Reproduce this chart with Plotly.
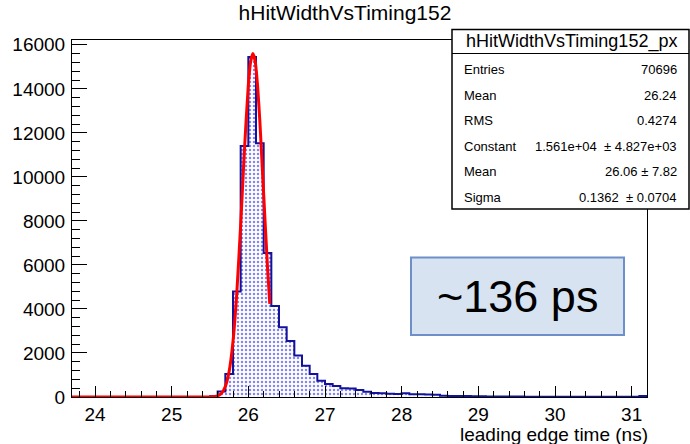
import plotly.graph_objects as go

# ---------------- data ----------------
bin_width = 0.1
bin_left_edges = [round(23.7 + 0.1 * i, 1) for i in range(75)]
counts = [
    0, 0, 0, 0, 0, 0, 0, 0, 0, 0,          # 23.7 - 24.6
    0, 0, 0, 0, 0, 0, 0, 0,                # 24.7 - 25.4
    30, 250, 1050, 4790, 11400,            # 25.5 - 25.9
    15450, 11530, 6545, 4140, 3170,        # 26.0 - 26.4
    2545, 1880, 1425, 1045, 740,           # 26.5 - 26.9
    590, 500, 400, 390, 320,               # 27.0 - 27.4
    240, 180, 175, 150, 140,               # 27.5 - 27.9
    175, 130, 120, 110, 100,               # 28.0 - 28.4
    60, 50, 45, 40, 35,                    # 28.5 - 28.9
    30, 28, 25, 22, 20,                    # 29.0 - 29.4
    18, 16, 15, 14, 12,                    # 29.5 - 29.9
    11, 10, 10, 9, 8,                      # 30.0 - 30.4
    8, 7, 7, 6, 6,                         # 30.5 - 30.9
    6, 45,                                 # 31.0 - 31.1
]

# red fit curve
fit_x = [23.7, 25.0, 25.4, 25.5, 25.6, 25.65, 25.7, 25.75, 25.8, 25.85, 25.9,
         25.95, 26.0, 26.03, 26.06, 26.09, 26.12, 26.15, 26.2, 26.25, 26.28]
fit_y = [0, 0, 0, 3, 52, 168, 475, 1170, 2524, 4755, 7830,
         11266, 14166, 15236, 15610, 15236, 14166, 12549, 9203, 5901, 4234]

y_tick_values = [0, 2000, 4000, 6000, 8000, 10000, 12000, 14000, 16000]
x_tick_values = [24, 25, 26, 27, 28, 29, 30, 31]

title_text = "hHitWidthVsTiming152"
stats_title = "hHitWidthVsTiming152_px"
stats_labels = ["Entries", "Mean", "RMS", "Constant", "Mean", "Sigma"]
stats_values = ["70696", "26.24", "0.4274",
                "1.561e+04\u00a0\u00a0\u00b1 4.827e+03",
                "26.06 \u00b1 7.82",
                "0.1362 \u00a0\u00b1 0.0704"]
x_title = "leading edge time (ns)"
note_text = "~136 ps"

# ---------------- figure ----------------
FONT = "Liberation Sans, Arial, sans-serif"
centers = [e + bin_width / 2 for e in bin_left_edges]

fig = go.Figure()
fig.add_trace(go.Bar(
    x=centers, y=counts, width=bin_width,
    marker=dict(color="white", line=dict(width=0),
                pattern=dict(shape=".", fgcolor="#0a0af0", bgcolor="white",
                             size=4, solidity=0.3)),
    hoverinfo="skip", showlegend=False,
))
step_x = bin_left_edges + [bin_left_edges[-1] + bin_width]
step_y = counts + [counts[-1]]
fig.add_trace(go.Scatter(
    x=step_x, y=step_y, mode="lines", line=dict(shape="hv", color="#12129a", width=2),
    showlegend=False, hoverinfo="skip",
))
fig.add_trace(go.Scatter(
    x=fit_x, y=fit_y, mode="lines", line=dict(color="#ff0000", width=3, shape="spline", smoothing=0.6),
    showlegend=False, hoverinfo="skip",
))

L, R, T, B = 72, 43, 40, 47
W, H = 690, 444
pw, ph = W - L - R, H - T - B


def px(x):
    return (x - L) / pw


def py(y):
    return (H - B - y) / ph


shapes = [
    # stats box
    dict(type="rect", xref="paper", yref="paper", x0=px(452), x1=px(689), y0=py(209), y1=py(29.5),
         fillcolor="white", line=dict(color="black", width=1.5), layer="above"),
    dict(type="line", xref="paper", yref="paper", x0=px(452), x1=px(689), y0=py(53.5), y1=py(53.5),
         line=dict(color="black", width=1), layer="above"),
    # note box
    dict(type="rect", xref="paper", yref="paper", x0=px(411), x1=px(624), y0=py(335), y1=py(257.5),
         fillcolor="#d7e3f0", line=dict(color="#6e8fc8", width=2), layer="above"),
]

annotations = [
    dict(text=stats_title, xref="paper", yref="paper", x=px(571), y=py(41.5),
         xanchor="center", yanchor="middle", showarrow=False,
         font=dict(family=FONT, size=18, color="black")),
    dict(text=note_text, xref="paper", yref="paper", x=px(517.5), y=py(296),
         xanchor="center", yanchor="middle", showarrow=False,
         font=dict(family=FONT, size=45, color="black")),
    dict(text=x_title, xref="paper", yref="paper", x=px(650), y=py(434),
         xanchor="right", yanchor="middle", showarrow=False,
         font=dict(family=FONT, size=19, color="black")),
]
row_y = [69.5, 95, 120.5, 146, 171.5, 197]
for lab, val, yy in zip(stats_labels, stats_values, row_y):
    annotations.append(dict(text=lab, xref="paper", yref="paper", x=px(461.5), y=py(yy),
                            xanchor="left", yanchor="middle", showarrow=False,
                            font=dict(family=FONT, size=13, color="black")))
    annotations.append(dict(text=val, xref="paper", yref="paper", x=px(679.5), y=py(yy),
                            xanchor="right", yanchor="middle", showarrow=False,
                            font=dict(family=FONT, size=13, color="black")))

fig.update_layout(
    width=W, height=H,
    margin=dict(l=L, r=R, t=T, b=B, pad=0),
    paper_bgcolor="white", plot_bgcolor="white",
    bargap=0, barmode="overlay",
    title=dict(text=title_text, x=0.5, xref="container", xanchor="center",
               y=1 - 13 / H, yref="container", yanchor="middle",
               font=dict(family=FONT, size=21, color="black")),
    font=dict(family=FONT, color="black"),
    shapes=shapes, annotations=annotations,
    xaxis=dict(range=[23.7, 31.2], tickvals=x_tick_values, ticks="inside", ticklen=11,
               tickcolor="black", tickwidth=1, showline=True, linecolor="black", linewidth=1,
               mirror=True, showgrid=False, zeroline=False,
               tickfont=dict(family=FONT, size=19, color="black"), ticklabelstandoff=0,
               minor=dict(ticks="inside", ticklen=6, dtick=0.2, tick0=23.8, tickcolor="black", showgrid=False)),
    yaxis=dict(range=[0, 16220], tickvals=y_tick_values, ticks="inside", ticklen=15,
               tickformat="d",
               tickcolor="black", tickwidth=1, showline=True, linecolor="black", linewidth=1,
               mirror=True, showgrid=False, zeroline=False,
               tickfont=dict(family=FONT, size=19, color="black"), ticklabelstandoff=2,
               minor=dict(ticks="inside", ticklen=7.5, dtick=400, tickcolor="black", showgrid=False)),
)

fig.write_html("out.html")
